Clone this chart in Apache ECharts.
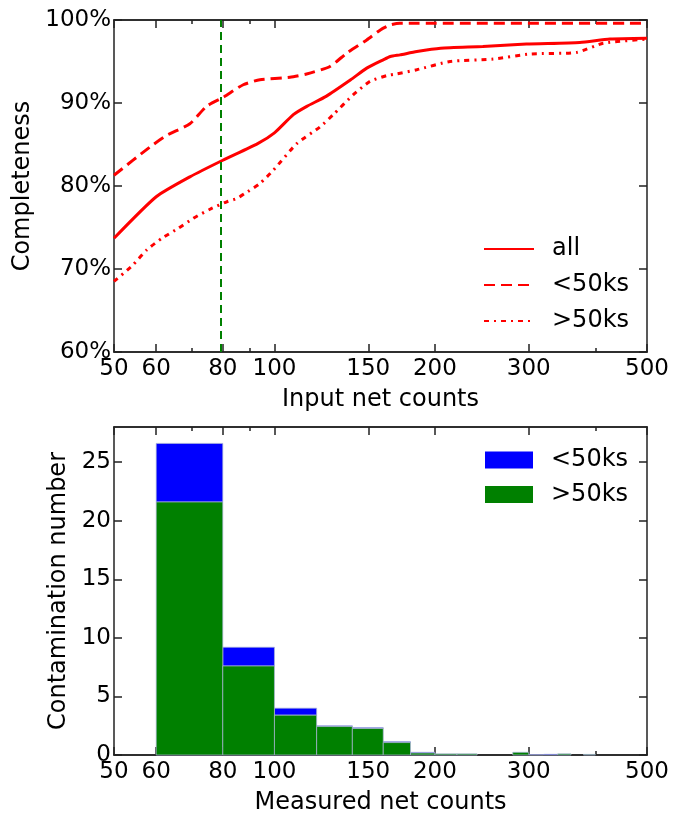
<!DOCTYPE html>
<html><head><meta charset="utf-8">
<script src="https://cdn.jsdelivr.net/npm/echarts@6/dist/echarts.min.js"></script>
<style>html,body{margin:0;padding:0;background:#fff}#c{width:691px;height:816px}</style>
</head><body><div id="c"></div>
<script>
// ---------- data ----------
// Top panel: completeness vs input net counts
const allCounts   = [50, 60, 69.4, 80, 93, 100, 108.5, 115, 125, 139, 149, 160, 165, 172, 185, 205, 246, 297, 374, 426, 500];
const allComp     = [73.7, 78.7, 81.1, 83.1, 85.1, 86.4, 88.6, 89.6, 90.8, 92.8, 94.2, 95.2, 95.6, 95.8, 96.2, 96.6, 96.8, 97.1, 97.3, 97.7, 97.8];
const shortCounts = [50, 58.4, 62.8, 69.4, 74.6, 80.2, 87.4, 93.9, 106.9, 114.9, 127.1, 136.6, 149, 158, 165, 172, 500];
const shortComp   = [81.3, 84.7, 86.1, 87.5, 89.6, 90.7, 92.2, 92.8, 93.1, 93.5, 94.4, 96.0, 97.6, 98.8, 99.4, 99.6, 99.6];
const longCounts  = [50, 54.3, 57.6, 61.5, 66, 70.4, 75.7, 81.4, 85, 88, 93.9, 99.5, 110.1, 121.7, 128.9, 140.6, 151.1, 162.4, 169.6, 184.9, 213.5, 257.4, 301.7, 369.1, 414, 500];
const longComp    = [68.5, 70.5, 72.3, 73.7, 74.9, 76.1, 77.2, 78.1, 78.5, 79.1, 80.3, 81.9, 85.1, 87.1, 88.6, 91.0, 92.6, 93.3, 93.5, 94.0, 95.0, 95.3, 95.9, 96.1, 97.2, 97.7];
const cutCounts   = 80;

// Bottom panel: contamination histogram
const binEdges        = [60, 80, 100, 120, 140, 160, 180, 200, 220, 240, 260, 280, 300, 320, 340, 360, 380, 400];
const countsOver50ks  = [21.6, 7.6, 3.4, 2.43, 2.26, 1.06, 0.17, 0.1, 0.1, 0, 0, 0.23, 0, 0, 0.1, 0, 0.05];
const countsUnder50ks = [5.0, 1.6, 0.6, 0.07, 0.08, 0.08, 0.06, 0, 0, 0, 0, 0, 0.03, 0.06, 0, 0, 0];

// ticks
const xMajorTicks = [50, 60, 80, 100, 150, 200, 300, 500];
const xMinorTicks = [70, 90, 400];
const compTicks   = [60, 70, 80, 90, 100];
const histTicks   = [0, 5, 10, 15, 20, 25];

// ---------- chart ----------
const FONT = 'DejaVu Sans';
const L = v => Math.log10(v);
const xMin = L(50), xMax = L(500);
const frame = {color: '#222', width: 1.5};
const tickTxt = {fontSize: 23, color: '#000', fontFamily: FONT};
const nameTxt = {fontSize: 24, color: '#000', fontFamily: FONT};

function xAxesFor(gridIndex, name, nameGap) {
  const base = {
    type: 'value', gridIndex, min: xMin, max: xMax,
    splitLine: {show: false},
    axisLine: {show: true, onZero: false, lineStyle: frame}
  };
  return [
    Object.assign({}, base, {
      position: 'bottom', name, nameLocation: 'middle', nameGap,
      nameTextStyle: nameTxt,
      axisTick: {inside: true, length: 8, customValues: xMajorTicks.map(L), lineStyle: frame},
      axisLabel: Object.assign({customValues: xMajorTicks.map(L), margin: 6,
        formatter: v => String(Math.round(Math.pow(10, v)))}, tickTxt)
    }),
    Object.assign({}, base, {
      position: 'bottom',
      axisTick: {inside: true, length: 4, customValues: xMinorTicks.map(L), lineStyle: frame},
      axisLabel: {show: false}
    }),
    Object.assign({}, base, {
      position: 'top',
      axisTick: {inside: true, length: 8, customValues: xMajorTicks.map(L), lineStyle: frame},
      axisLabel: {show: false}
    }),
    Object.assign({}, base, {
      position: 'top',
      axisTick: {inside: true, length: 4, customValues: xMinorTicks.map(L), lineStyle: frame},
      axisLabel: {show: false}
    })
  ];
}

function pairs(xs, ys) { return xs.map((x, i) => [L(x), ys[i]]); }

function histItems(base, vals) {
  const out = [];
  for (let i = 0; i < vals.length; i++) {
    if (vals[i] <= 0) continue;
    const b = base ? base[i] : 0;
    out.push([L(binEdges[i]), L(binEdges[i + 1]), b, b + vals[i]]);
  }
  return out;
}

function barRenderer(fill) {
  return function (params, api) {
    const p0 = api.coord([api.value(0), api.value(2)]);
    const p1 = api.coord([api.value(1), api.value(3)]);
    return {
      type: 'rect',
      shape: {x: p0[0], y: p1[1], width: p1[0] - p0[0], height: p0[1] - p1[1]},
      style: {fill, stroke: 'rgba(170,180,215,0.9)', lineWidth: 0.8}
    };
  };
}

const legendNames = {'hist_lt': '<50ks', 'hist_gt': '>50ks'};

const option = {
  animation: false,
  backgroundColor: '#fff',
  textStyle: {fontFamily: FONT},
  grid: [
    {left: 114, top: 20, width: 533, height: 332},
    {left: 114, top: 427, width: 533, height: 332}
  ],
  xAxis: [].concat(xAxesFor(0, 'Input net counts', 36), xAxesFor(1, 'Measured net counts', 36)),
  yAxis: [
    {type: 'value', gridIndex: 0, position: 'left', min: 60, max: 100, interval: 10,
     axisLine: {show: true, lineStyle: frame},
     axisTick: {inside: true, length: 8, lineStyle: frame},
     axisLabel: Object.assign({formatter: '{value}%', margin: 3}, tickTxt),
     splitLine: {show: false},
     name: 'Completeness', nameLocation: 'middle', nameGap: 76, nameTextStyle: nameTxt},
    {type: 'value', gridIndex: 0, position: 'right', min: 60, max: 100, interval: 10,
     axisLine: {show: true, lineStyle: frame},
     axisTick: {inside: true, length: 8, lineStyle: frame},
     axisLabel: {show: false}, splitLine: {show: false}},
    {type: 'value', gridIndex: 1, position: 'left', min: 0, max: 28,
     axisLine: {show: true, lineStyle: frame},
     axisTick: {inside: true, length: 8, customValues: histTicks, lineStyle: frame},
     axisLabel: Object.assign({customValues: histTicks, margin: 3}, tickTxt),
     splitLine: {show: false},
     name: 'Contamination number', nameLocation: 'middle', nameGap: 40, nameTextStyle: nameTxt},
    {type: 'value', gridIndex: 1, position: 'right', min: 0, max: 28,
     axisLine: {show: true, lineStyle: frame},
     axisTick: {inside: true, length: 8, customValues: histTicks, lineStyle: frame},
     axisLabel: {show: false}, splitLine: {show: false}}
  ],
  legend: [
    {data: ['all', '<50ks', '>50ks'], orient: 'vertical', left: 478, top: 232,
     itemWidth: 50, itemHeight: 22, itemGap: 12,
     itemStyle: {opacity: 0},
     textStyle: Object.assign({padding: [0, 0, 0, 13]}, nameTxt)},
    {data: [{name: 'hist_lt', icon: 'rect'}, {name: 'hist_gt', icon: 'rect'}],
     orient: 'vertical', left: 480, top: 443,
     itemWidth: 48, itemHeight: 17, itemGap: 10.5,
     formatter: n => legendNames[n] || n,
     textStyle: Object.assign({padding: [0, 0, 0, 13]}, nameTxt)}
  ],
  series: [
    {name: 'all', type: 'line', xAxisIndex: 0, yAxisIndex: 0, data: pairs(allCounts, allComp),
     symbol: 'none', smooth: 0.2, color: '#ff0000', lineStyle: {color: '#ff0000', width: 3, type: 'solid'},
     markLine: {silent: true, symbol: 'none', label: {show: false},
       lineStyle: {color: '#008000', width: 2, type: [8, 5]},
       data: [{xAxis: L(cutCounts)}]}},
    {name: '<50ks', type: 'line', xAxisIndex: 0, yAxisIndex: 0, data: pairs(shortCounts, shortComp),
     symbol: 'none', smooth: 0.2, color: '#ff0000', lineStyle: {color: '#ff0000', width: 3, type: [11, 6]}},
    {name: '>50ks', type: 'line', xAxisIndex: 0, yAxisIndex: 0, data: pairs(longCounts, longComp),
     symbol: 'none', smooth: 0.2, color: '#ff0000', lineStyle: {color: '#ff0000', width: 3, type: [5, 5, 2, 5]}},
    {name: 'hist_lt', type: 'custom', xAxisIndex: 4, yAxisIndex: 2,
     itemStyle: {color: '#0000ff'}, renderItem: barRenderer('#0000ff'),
     encode: {x: [0, 1], y: [2, 3]}, data: histItems(countsOver50ks, countsUnder50ks)},
    {name: 'hist_gt', type: 'custom', xAxisIndex: 4, yAxisIndex: 2,
     itemStyle: {color: '#008000'}, renderItem: barRenderer('#008000'),
     encode: {x: [0, 1], y: [2, 3]}, data: histItems(null, countsOver50ks)}
  ]
};

const chart = echarts.init(document.getElementById('c'), null, {renderer: 'canvas'});
chart.setOption(option);
</script>
</body></html>
